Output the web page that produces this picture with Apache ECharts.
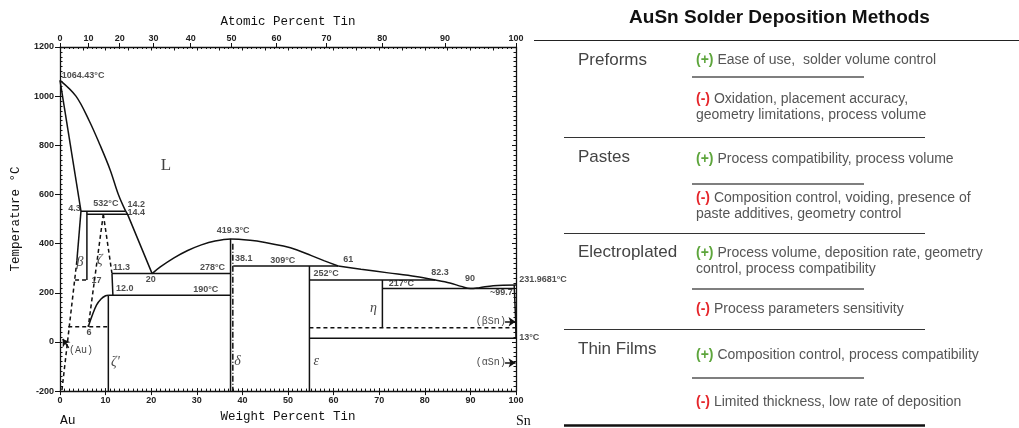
<!DOCTYPE html>
<html>
<head>
<meta charset="utf-8">
<style>html,body{margin:0;padding:0;background:#fff}#main{width:1019px;height:428px}</style>
<script src="https://cdn.jsdelivr.net/npm/echarts@6/dist/echarts.min.js"></script>
</head>
<body>
<div id="main"></div>
<script>
var chartDom = document.getElementById('main');
var myChart = echarts.init(chartDom, null, { renderer: 'canvas' });

// phase boundaries, [weight % Sn, temperature °C]
const liqAu = [[0, 1064.43], [3.5, 1000], [6.4, 900], [8.8, 800], [11, 700], [12.8, 600], [14.4, 532]];
const liqAuLow = [[14.4, 532], [14.8, 520], [20.2, 278]];
const solidusAu = [[0, 1064.43], [4.6, 532]];
const auSolvusTop = [[4.6, 532], [3.7, 330]];
const auSolvusLow = [[3.7, 330], [0.4, -200]];
const peri532 = [[4.6, 532], [14.4, 532]];
const line520 = [[5.9, 520], [14.8, 520]];
const betaRight = [[5.9, 532], [5.9, 252]];
const betaBase = [[3.3, 252], [5.9, 252]];
const zetaLeft = [[9.5, 520], [6.2, 62]];
const zetaRight = [[9.5, 520], [11.4, 278]];
const zetaSolid = [[11.4, 278], [11.6, 190]];
const zetaCurve = [[6.2, 62], [7, 105], [8, 150], [9, 175], [10, 188], [10.6, 190]];
const line190 = [[10.6, 190], [37.4, 190]];
const zetaPrimeV = [[10.6, 190], [10.6, -200]];
const line62 = [[1.8, 62], [10.6, 62]];
const line278 = [[11.4, 278], [37.4, 278]];
const liqMid = [[20.2, 278], [22, 305], [25, 342], [28, 372], [31, 395], [34, 411], [37.4, 419.3],
  [41.7, 414], [45, 405], [49, 390], [52, 374], [55, 352], [58, 330], [61, 309]];
const deltaV = [[37.4, 419.3], [37.4, -200]];
const deltaDash = [[37.9, 400], [37.9, -200]];
const line309 = [[38, 309], [61, 309]];
const epsV = [[54.7, 309], [54.7, -200]];
const liqSn = [[61, 309], [66, 296], [72, 281], [78, 266], [82.3, 252], [85.5, 240], [88, 226],
  [90, 217], [92, 221], [95, 229], [100, 231.97]];
const line252 = [[54.7, 252], [82.3, 252]];
const line217 = [[70.7, 217], [99.7, 217]];
const etaV = [[70.7, 252], [70.7, 58]];
const line58 = [[54.7, 58], [100, 58]];
const line13 = [[54.7, 15], [100, 15]];
const snSolvus = [[99.6, 231.97], [99.9, 100], [100, 15]];
const arrows = [
  [[97.6, 82], [99.9, 82]],
  [[97.6, -85], [99.9, -85]],
  [[1.9, -24], [0.6, 12]]
];

// annotations, [left edge wt %, temperature, text]
const numNotes = [
  [0.4, 1083, '1064.43°C'], [1.8, 543, '4.3'], [7.3, 563, '532°C'], [14.8, 559, '14.2'],
  [14.8, 525, '14.4'], [11.6, 302, '11.3'], [6.9, 248, '17'], [12.3, 218, '12.0'],
  [18.8, 254, '20'], [5.8, 38, '6'], [30.7, 302, '278°C'], [29.2, 212, '190°C'],
  [34.4, 455, '419.3°C'], [38.4, 339, '38.1'], [46.1, 332, '309°C'], [62.1, 336, '61'],
  [55.6, 278, '252°C'], [81.4, 281, '82.3'], [72.1, 238, '217°C'], [88.8, 258, '90'],
  [94.3, 202, '~99.7'], [100.7, 252, '231.9681°C'], [100.7, 20, '13°C']
];
const greekNotes = [
  [3.6, 325, 'β'], [8.1, 332, 'ζ'], [11.2, -83, "ζ'"], [38.2, -79, 'δ'],
  [55.6, -79, 'ε'], [68, 138, 'η']
];
const phaseNotes = [[2.0, -36, '(Au)'], [91.2, 82, '(βSn)'], [91.2, -85, '(αSn)']];
const liquidNote = [[22.1, 718, 'L']];

const atTicks = [0, 10, 20, 30, 40, 50, 60, 70, 80, 90, 100];
const yTicks = { min: -200, max: 1200, step: 200 };

// table on the right
const tableTitle = 'AuSn Solder Deposition Methods';
const methods = ['Preforms', 'Pastes', 'Electroplated', 'Thin Films'];
const pros = [
  ['Ease of use,  solder volume control'],
  ['Process compatibility, process volume'],
  ['Process volume, deposition rate, geometry', 'control, process compatibility'],
  ['Composition control, process compatibility']
];
const cons = [
  ['Oxidation, placement accuracy,', 'geometry limitations, process volume'],
  ['Composition control, voiding, presence of', 'paste additives, geometry control'],
  ['Process parameters sensitivity'],
  ['Limited thickness, low rate of deposition']
];

// layout of the table (pixels)
const methodY = [60, 157, 252, 349];
const proY = [60, 159, 253, 355];
const conY = [99, 198, 309, 402];
const dividerY = [77, 184, 289, 378];
const rowLineY = [137, 233, 329];
const lineGap = 16;

const MW_AU = 196.97, MW_SN = 118.71;
const atToWt = a => 100 * a * MW_SN / (a * MW_SN + (100 - a) * MW_AU);
const wtToAt = w => 100 * (w / MW_SN) / (w / MW_SN + (100 - w) / MW_AU);
const atWt = atTicks.map(atToWt);

const ink = '#111';
const numFont = { fontFamily: 'Liberation Sans', fontWeight: 'bold', fontSize: 9, color: '#222' };
const monoFont = 'Liberation Mono';

const series = [];
function addLine(data, type, smooth) {
  series.push({
    type: 'line', data: data, symbol: 'none', smooth: smooth ? 0.35 : false,
    silent: true, clip: false,
    lineStyle: { color: ink, width: 1.5, type: type || 'solid' }
  });
}
[liqAuLow, solidusAu, auSolvusTop, peri532, line520, betaRight, zetaSolid, line190,
  zetaPrimeV, line278, deltaV, line309, epsV, line252, line217, etaV, line13, snSolvus]
  .forEach(d => addLine(d));
[liqAu, zetaCurve, liqMid, liqSn].forEach(d => addLine(d, 'solid', true));
[auSolvusLow, betaBase, zetaLeft, zetaRight, line62, line58].forEach(d => addLine(d, [4, 3]));
addLine(deltaDash, [6, 2, 1, 2]);

function addNotes(notes, textStyle, extra) {
  series.push(Object.assign({
    type: 'scatter', symbolSize: 0, silent: true, clip: false,
    data: notes.map(n => ({ value: [n[0], n[1]], name: n[2] })),
    label: Object.assign({
      show: true, position: 'right', distance: 0, formatter: '{b}'
    }, textStyle)
  }, extra || {}));
}
addNotes(numNotes, numFont);
addNotes(greekNotes, { fontFamily: 'Liberation Serif', fontStyle: 'italic', fontSize: 14, color: ink });
// phase names, with the arrows pointing at their fields
addNotes(phaseNotes, { fontFamily: monoFont, fontSize: 10, color: ink }, {
  markLine: {
    silent: true, symbol: ['none', 'arrow'], symbolSize: 7, animation: false,
    label: { show: false },
    lineStyle: { color: ink, width: 1.5, type: 'solid' },
    data: arrows.map(a => [{ coord: a[0] }, { coord: a[1] }])
  }
});
addNotes(liquidNote, { fontFamily: 'Liberation Serif', fontSize: 17, color: ink });

// table graphics
const graphic = [];
graphic.push({ type: 'text', x: 779.5, y: 18, style: {
  text: tableTitle, font: 'bold 19px "Liberation Sans"', fill: '#111', align: 'center', verticalAlign: 'middle' } });
graphic.push({ type: 'line', shape: { x1: 534, y1: 40.5, x2: 1019, y2: 40.5 }, style: { stroke: '#222', lineWidth: 1 } });
rowLineY.forEach(y => graphic.push({ type: 'line', shape: { x1: 564, y1: y + 0.5, x2: 925, y2: y + 0.5 }, style: { stroke: '#333', lineWidth: 1 } }));
graphic.push({ type: 'line', shape: { x1: 564, y1: 425.5, x2: 925, y2: 425.5 }, style: { stroke: '#111', lineWidth: 2.5 } });
dividerY.forEach(y => graphic.push({ type: 'line', shape: { x1: 692, y1: y, x2: 864, y2: y }, style: { stroke: '#555', lineWidth: 1.5 } }));
const rich = {
  p: { fill: '#5da53c', font: 'bold 14px "Liberation Sans"' },
  m: { fill: '#e5262b', font: 'bold 14px "Liberation Sans"' },
  t: { fill: '#555', font: '14px "Liberation Sans"' }
};
function addEntry(lines, y, mark) {
  lines.forEach((ln, i) => {
    graphic.push({ type: 'text', x: 696, y: y + i * lineGap, style: {
      text: i === 0 ? '{' + mark + '|' + (mark === 'p' ? '(+)' : '(-)') + '}{t| ' + ln + '}' : '{t|' + ln + '}',
      rich: rich, verticalAlign: 'middle', align: 'left' } });
  });
}
methods.forEach((m, i) => {
  graphic.push({ type: 'text', x: 578, y: methodY[i], style: {
    text: m, font: '17px "Liberation Sans"', fill: '#444', verticalAlign: 'middle' } });
  addEntry(pros[i], proY[i], 'p');
  addEntry(cons[i], conY[i], 'm');
});
graphic.push({ type: 'text', x: 60, y: 421, style: { text: 'Au', font: '13px "Liberation Mono"', fill: ink, verticalAlign: 'middle' } });
graphic.push({ type: 'text', x: 516, y: 421, style: { text: 'Sn', font: '14px "Liberation Serif"', fill: ink, verticalAlign: 'middle' } });

const axisLine = { show: true, onZero: false, lineStyle: { color: ink, width: 1.3 } };
const blankAxis = { axisLine: { show: false, onZero: false }, axisLabel: { show: false }, splitLine: { show: false } };
const plain = v => String(Math.round(v));

var option = {
  animation: false,
  backgroundColor: '#fff',
  grid: { left: 60, right: 503, top: 47, bottom: 32 },
  xAxis: [
    {
      type: 'value', position: 'bottom', min: 0, max: 100, interval: 10,
      axisLine: axisLine, splitLine: { show: false },
      axisTick: { length: 4, lineStyle: { color: ink } },
      axisLabel: Object.assign({ margin: 5, formatter: plain }, numFont),
      name: 'Weight Percent Tin', nameLocation: 'middle', nameGap: 12,
      nameTextStyle: { fontFamily: monoFont, fontSize: 12.5, color: ink }
    },
    Object.assign({
      type: 'value', position: 'bottom', min: 0, max: 100, interval: 10,
      axisTick: { inside: true, length: 3, lineStyle: { color: ink } },
      minorTick: { show: true, splitNumber: 10, length: 2.5, lineStyle: { color: ink } }
    }, blankAxis),
    {
      type: 'value', position: 'top', min: 0, max: 100,
      axisLine: axisLine, splitLine: { show: false },
      axisTick: { length: 4, customValues: atWt, lineStyle: { color: ink } },
      axisLabel: Object.assign({ margin: 4, customValues: atWt,
        formatter: v => String(Math.round(wtToAt(v))) }, numFont),
      name: 'Atomic Percent Tin', nameLocation: 'middle', nameGap: 19,
      nameTextStyle: { fontFamily: monoFont, fontSize: 12.5, color: ink }
    },
    Object.assign({
      type: 'value', position: 'top', min: 0, max: 100, interval: 5,
      axisTick: { inside: true, length: 3.5, lineStyle: { color: ink } },
      minorTick: { show: true, splitNumber: 5, length: 2, lineStyle: { color: ink } }
    }, blankAxis)
  ],
  yAxis: [
    {
      type: 'value', position: 'left', min: yTicks.min, max: yTicks.max, interval: yTicks.step,
      axisLine: axisLine, splitLine: { show: false },
      axisTick: { length: 5, lineStyle: { color: ink } },
      axisLabel: Object.assign({ margin: 6, formatter: plain }, numFont),
      name: 'Temperature °C', nameLocation: 'middle', nameGap: 38,
      nameTextStyle: { fontFamily: monoFont, fontSize: 12.5, color: ink }
    },
    Object.assign({
      type: 'value', position: 'left', min: yTicks.min, max: yTicks.max, interval: yTicks.step,
      axisTick: { inside: true, length: 2.5, lineStyle: { color: ink } },
      minorTick: { show: true, splitNumber: 10, length: 2.5, lineStyle: { color: ink } }
    }, blankAxis),
    {
      type: 'value', position: 'right', min: yTicks.min, max: yTicks.max, interval: yTicks.step,
      axisLine: axisLine, splitLine: { show: false }, axisLabel: { show: false },
      axisTick: { inside: true, length: 4, lineStyle: { color: ink } },
      minorTick: { show: true, splitNumber: 10, length: 2.5, lineStyle: { color: ink } }
    }
  ],
  graphic: graphic,
  series: series
};
option && myChart.setOption(option);
</script>
</body>
</html>
